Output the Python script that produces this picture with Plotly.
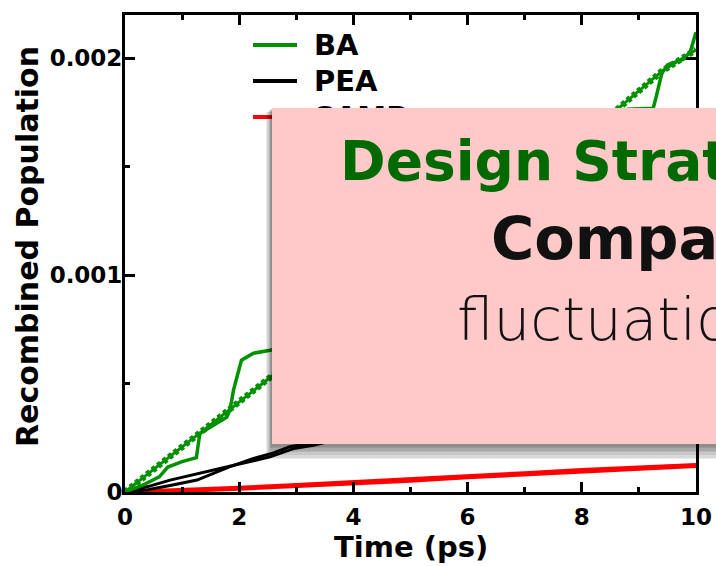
import plotly.graph_objects as go

# ---------------- data ----------------
# BA, first run (beaded line)
t_ba_1 = [0, 0.5, 1.0, 1.5, 2.0, 2.5, 3.0, 4.0, 5.0, 6.0, 7.0, 8.0, 8.6, 9.0, 9.4, 9.7, 10.0]
ba_1 = [0, 0.000105, 0.000208, 0.00031, 0.000415, 0.00052, 0.00062, 0.00083, 0.00104,
        0.00124, 0.00144, 0.00164, 0.00176, 0.00185, 0.00194, 0.00199, 0.00204]

# BA, second run (stepped line)
t_ba_2 = [0, 0.3, 0.6, 0.75, 1.0, 1.25, 1.31, 1.5, 1.78, 1.84, 1.9, 2.04, 2.25, 2.54,
          3.0, 3.5, 4.0, 4.5, 5.0, 5.5, 6.0, 6.5, 7.0, 7.5, 8.0, 8.5, 8.8, 9.25, 9.3,
          9.4, 9.5, 9.77, 9.9, 9.95, 10.0]
ba_2 = [0, 0.00003, 0.00007, 0.000115, 0.00014, 0.000158, 0.00027, 0.0003, 0.000345,
        0.00038, 0.00047, 0.000608, 0.00064, 0.000654, 0.00068, 0.00075, 0.00089,
        0.00099, 0.0011, 0.00118, 0.00128, 0.00138, 0.00147, 0.00158, 0.00166,
        0.00172, 0.001765, 0.00177, 0.00182, 0.00193, 0.00197, 0.001995, 0.00203,
        0.00207, 0.00212]

# PEA, two runs
t_pea_1 = [0, 0.4, 0.79, 1.2, 1.66, 2.1, 2.54, 2.95, 3.3, 4, 5, 6, 7, 8, 9, 10]
pea_1 = [0, 0.000025, 0.000055, 0.00008, 0.00011, 0.000138, 0.000162, 0.0002, 0.000216,
         0.00026, 0.00032, 0.00038, 0.00044, 0.0005, 0.00056, 0.00062]
t_pea_2 = [0, 0.4, 0.79, 1.26, 1.84, 2.25, 2.6, 2.9, 3.3, 4, 5, 6, 7, 8, 9, 10]
pea_2 = [0, 0.00001, 0.00003, 0.000055, 0.000117, 0.000155, 0.00018, 0.00021, 0.000225,
         0.00025, 0.00031, 0.00037, 0.00043, 0.00049, 0.00055, 0.0006]

# SAMP, two runs
t_samp = [0, 1, 2, 3, 4, 5, 6, 7, 8, 9, 10]
samp_1 = [0, 0.000008, 0.00002, 0.000032, 0.000045, 0.000057, 0.000074, 0.000087,
          0.000101, 0.000113, 0.000125]
samp_2 = [0, 0.000005, 0.000015, 0.000027, 0.00004, 0.000052, 0.000068, 0.000082,
          0.000096, 0.000108, 0.00012]

legend_labels = ["BA", "PEA", "SAMP"]
x_tickvals = [0, 2, 4, 6, 8, 10]
y_tickvals = [0, 0.001, 0.002]
y_ticktext = ["0", "0.001", "0.002"]
x_title = "Time (ps)"
y_title = "Recombined Population"
box_lines = ["Design Strategy", "Comparison", "fluctuations"]

# ---------------- styling ----------------
GREEN = "rgb(0,145,0)"
BLACK = "#000000"
RED = "#ff0000"
colors = [GREEN, BLACK, RED]
W, H = 716, 566
L, R, T, B = 125, 20, 15, 74
PW, PH = W - L - R, H - T - B


def px_x(p):                  # page pixel -> paper fraction
    return (p - L) / PW


def px_y(p):
    return (H - B - p) / PH


FONT = "DejaVu Sans"

fig = go.Figure()
fig.add_trace(go.Scatter(x=t_samp, y=samp_2, mode="lines", line=dict(color=RED, width=4), showlegend=False))
fig.add_trace(go.Scatter(x=t_samp, y=samp_1, mode="lines", line=dict(color=RED, width=4), showlegend=False))
fig.add_trace(go.Scatter(x=t_pea_1, y=pea_1, mode="lines", line=dict(color=BLACK, width=3), showlegend=False))
fig.add_trace(go.Scatter(x=t_pea_2, y=pea_2, mode="lines", line=dict(color=BLACK, width=3), showlegend=False))
fig.add_trace(go.Scatter(x=t_ba_1, y=ba_1, mode="lines", line=dict(color=GREEN, width=3), showlegend=False))
fig.add_trace(go.Scatter(x=t_ba_1, y=ba_1, mode="lines", line=dict(color=GREEN, width=6.5, dash="4px,3px"), showlegend=False))
fig.add_trace(go.Scatter(x=t_ba_2, y=ba_2, mode="lines", line=dict(color=GREEN, width=3.5), showlegend=False))

shapes = []
annotations = []

# manual legend
leg_y = [45, 81, 117]
for lab, col, yy in zip(legend_labels, colors, leg_y):
    shapes.append(dict(type="line", xref="paper", yref="paper",
                       x0=px_x(253), x1=px_x(297), y0=px_y(yy), y1=px_y(yy),
                       line=dict(color=col, width=4)))
    annotations.append(dict(text=lab, xref="paper", yref="paper", x=px_x(312), y=px_y(yy),
                            xanchor="left", yanchor="middle", showarrow=False,
                            font=dict(family=FONT, size=29, weight="bold", color="black")))

# axis titles
annotations.append(dict(text=x_title, xref="paper", yref="paper", x=px_x(411), y=px_y(547),
                        xanchor="center", yanchor="middle", showarrow=False,
                        font=dict(family=FONT, size=29, weight="bold", color="black")))
annotations.append(dict(text=y_title, xref="paper", yref="paper", x=px_x(27), y=px_y(247),
                        xanchor="center", yanchor="middle", showarrow=False, textangle=-90,
                        font=dict(family=FONT, size=30, weight="bold", color="black")))

# overlay box: shadow then box
box_l, box_t, box_b, box_r = 272, 108, 444, 740
for i in range(1, 8):
    annotations.append(dict(text=" ", xref="paper", yref="paper",
                            x=px_x(box_l - i * 0.8), y=px_y(box_t + i * 0.6),
                            xanchor="left", yanchor="top", showarrow=False,
                            width=box_r - box_l + i, height=box_b - box_t + i * 1.6,
                            bgcolor="rgba(0,0,0,0.08)", borderpad=0, borderwidth=0))
annotations.append(dict(text=" ", xref="paper", yref="paper", x=px_x(box_l), y=px_y(box_t),
                        xanchor="left", yanchor="top", showarrow=False,
                        width=box_r - box_l, height=box_b - box_t,
                        bgcolor="#ffc9c9", borderpad=0, borderwidth=0))
annotations.append(dict(text=box_lines[0], xref="paper", yref="paper", x=px_x(338), y=px_y(161),
                        xanchor="left", yanchor="middle", showarrow=False,
                        font=dict(family=FONT, size=55, weight="bold", color="#006a00")))
annotations.append(dict(text=box_lines[1], xref="paper", yref="paper", x=px_x(489), y=px_y(239),
                        xanchor="left", yanchor="middle", showarrow=False,
                        font=dict(family=FONT, size=59, weight="bold", color="#111111")))
annotations.append(dict(text=box_lines[2], xref="paper", yref="paper", x=px_x(455), y=px_y(320),
                        xanchor="left", yanchor="middle", showarrow=False,
                        font=dict(family=FONT, size=58, weight=200, color="#111111")))

axis_common = dict(showline=True, linewidth=3, linecolor="black", mirror="ticks",
                   ticks="inside", ticklen=10, tickwidth=3, tickcolor="black",
                   showgrid=False, zeroline=False, automargin=False,
                   tickfont=dict(family=FONT, size=23, weight="bold", color="black"))

fig.update_layout(
    width=W, height=H,
    margin=dict(l=L, r=R, t=T, b=B, pad=0),
    paper_bgcolor="white", plot_bgcolor="white",
    showlegend=False,
    xaxis=dict(range=[0, 10], tickvals=x_tickvals, ticklabelstandoff=2,
               minor=dict(ticks="inside", ticklen=5, tickwidth=3, tickcolor="black", dtick=1, tick0=0),
               **axis_common),
    yaxis=dict(range=[0, 0.0022], tickvals=y_tickvals, ticktext=y_ticktext, ticklabelstandoff=-5,
               minor=dict(ticks="inside", ticklen=5, tickwidth=3, tickcolor="black",
                          tickvals=[0.0005, 0.0015]),
               **axis_common),
    shapes=shapes,
    annotations=annotations,
)

fig.write_html("out.html", config={"displayModeBar": False},
               post_script="document.body.style.margin='0';document.body.style.overflow='hidden';")
